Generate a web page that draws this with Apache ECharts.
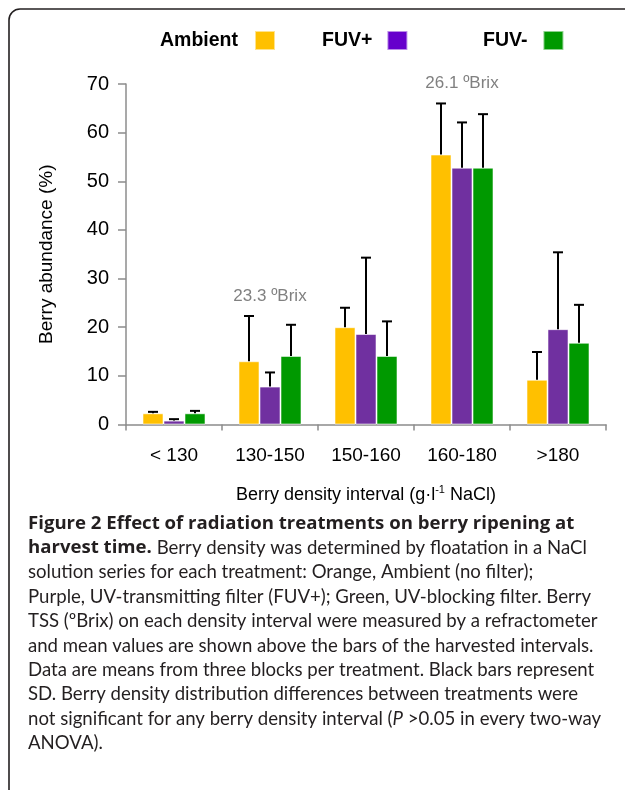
<!DOCTYPE html>
<html><head><meta charset="utf-8">
<script src="https://cdn.jsdelivr.net/npm/echarts@6/dist/echarts.min.js"></script>
<style>html,body{margin:0;padding:0;background:#fff;overflow:hidden}#c{width:625px;height:790px}</style>
</head><body><div id="c"></div>
<script>
// ---- data ----
const categories = ['< 130', '130-150', '150-160', '160-180', '>180'];
const seriesNames = ['Ambient', 'FUV+', 'FUV-'];
const ambientMean = [2.3, 13.0, 20.0, 55.5, 9.2];
const ambientSD   = [0.3, 9.3, 4.0, 10.5, 5.7];
const fuvPlusMean = [0.8, 7.8, 18.6, 52.8, 19.6];
const fuvPlusSD   = [0.3, 2.9, 15.7, 9.3, 15.8];
const fuvMinusMean = [2.3, 14.1, 14.1, 52.8, 16.8];
const fuvMinusSD   = [0.5, 6.4, 7.1, 11.0, 7.8];
const brixLabels = ['', '23.3 \u00baBrix', '', '26.1 \u00baBrix', ''];
const yTicks = [0, 10, 20, 30, 40, 50, 60, 70];
const captionLines = [
  [['b', 'Figure 2 Effect of radiation treatments on berry ripening at']],
  [['b', 'harvest time.'], ['n', ' Berry density was determined by floatation in a NaCl']],
  [['n', 'solution series for each treatment: Orange, Ambient (no filter);']],
  [['n', 'Purple, UV-transmitting filter (FUV+); Green, UV-blocking filter. Berry']],
  [['n', 'TSS (\u00baBrix) on each density interval were measured by a refractometer']],
  [['n', 'and mean values are shown above the bars of the harvested intervals.']],
  [['n', 'Data are means from three blocks per treatment. Black bars represent']],
  [['n', 'SD. Berry density distribution differences between treatments were']],
  [['n', 'not significant for any berry density interval ('], ['i', 'P'], ['n', ' >0.05 in every two-way']],
  [['n', 'ANOVA).']]
];

// ---- styling ----
const barColors = ['#FFC000', '#7030A0', '#009900'];
const legendColors = ['#FFC000', '#6600CC', '#009900'];
const means = [ambientMean, fuvPlusMean, fuvMinusMean];
const sds = [ambientSD, fuvPlusSD, fuvMinusSD];
const BAR_W = 21;
const FONT = '"Liberation Sans", Arial, sans-serif';
const CAP_FONT = 'Lato, "Open Sans", sans-serif';
const CAP_BOLD_FONT = '"Open Sans", Lato, sans-serif';
const CAP_SIZE = 18.6;

const chart = echarts.init(document.getElementById('c'), null, {renderer: 'canvas'});

const barSeries = seriesNames.map((name, s) => ({
  name, type: 'bar', data: means[s], barWidth: BAR_W, barGap: '0%',
  itemStyle: {color: barColors[s], borderColor: 'rgba(255,255,255,0.55)', borderWidth: 1},
  z: 2
}));

const errData = [];
seriesNames.forEach((n, s) => means[s].forEach((m, i) => errData.push([i, m, m + sds[s][i], s])));

const errSeries = {
  type: 'custom', name: 'err', silent: true, z: 5,
  data: errData,
  renderItem(params, api) {
    const i = api.value(0), s = api.value(3);
    const off = (s - 1) * BAR_W;
    const p0 = api.coord([i, api.value(1)]);
    const p1 = api.coord([i, api.value(2)]);
    const x = p0[0] + off;
    const st = {stroke: '#000', lineWidth: 2};
    return {type: 'group', children: [
      {type: 'line', shape: {x1: x, y1: p0[1], x2: x, y2: p1[1]}, style: st},
      {type: 'line', shape: {x1: x - 5, y1: p1[1], x2: x + 5, y2: p1[1]}, style: st}
    ]};
  }
};

const brixData = [];
brixLabels.forEach((t, i) => {
  if (!t) return;
  let top = 0;
  for (let s = 0; s < 3; s++) top = Math.max(top, means[s][i] + sds[s][i]);
  brixData.push([i, top, t]);
});
const brixSeries = {
  type: 'custom', name: 'brix', silent: true, z: 6, data: brixData,
  renderItem(params, api) {
    const p = api.coord([api.value(0), api.value(1)]);
    return {type: 'text', style: {text: brixData[params.dataIndex][2], x: p[0], y: p[1] - 20,
      align: 'center', verticalAlign: 'middle', fill: '#808080', font: '17px ' + FONT}};
  }
};

const legendPos = [{left: 155, pad: 12}, {left: 317, pad: 10}, {left: 478, pad: 11}];
const legends = seriesNames.map((n, s) => ({
  data: [{name: n, itemStyle: {color: legendColors[s]}}],
  left: legendPos[s].left, top: 25, align: 'right', itemWidth: 20, itemHeight: 19,
  icon: 'rect', selectedMode: false,
  textStyle: {fontFamily: FONT, fontWeight: 'bold', fontSize: 19.5, color: '#000', padding: [0, legendPos[s].pad, 0, 0]}
}));

const capStyles = {
  b: {fontFamily: CAP_BOLD_FONT, fontWeight: 'bold', fontSize: 18.6, fill: '#231f20'},
  n: {fontFamily: CAP_FONT, fontSize: CAP_SIZE, fill: '#231f20'},
  i: {fontFamily: CAP_FONT, fontStyle: 'italic', fontSize: CAP_SIZE, fill: '#231f20'}
};
const captionGraphics = captionLines.map((parts, k) => ({
  type: 'text', left: 28, top: 514 + k * 24.4,
  style: {
    text: parts.map(p => '{' + p[0] + '|' + p[1].replace(/[{}|]/g, '') + '}').join(''),
    rich: capStyles, font: CAP_SIZE + 'px ' + CAP_FONT, fill: '#231f20'
  }
}));

const frameStyle = {stroke: '#231f20', lineWidth: 1.6, fill: null};
chart.setOption({
  animation: false,
  backgroundColor: '#fff',
  legend: legends,
  grid: {left: 126, right: 19, top: 84, bottom: 365.5},
  xAxis: {
    type: 'category', data: categories,
    axisLine: {lineStyle: {color: '#8c8c8c', width: 1.5}},
    axisTick: {show: true, length: 6, lineStyle: {color: '#8c8c8c', width: 1.5}},
    axisLabel: {color: '#000', fontSize: 19, fontFamily: FONT, margin: 22},
    name: 'Berry density interval (g\u00b7l{sup|-1} NaCl)',
    nameLocation: 'middle', nameGap: 60,
    nameTextStyle: {color: '#000', fontSize: 18, fontFamily: FONT,
      rich: {sup: {fontSize: 11, fontFamily: FONT, color: '#000', verticalAlign: 'top', padding: [0, 0, 10, 0]}}}
  },
  yAxis: {
    type: 'value', min: 0, max: 70, interval: 10,
    axisLine: {show: true, lineStyle: {color: '#8c8c8c', width: 1.5}},
    axisTick: {show: true, length: 8, lineStyle: {color: '#8c8c8c', width: 1.5}},
    splitLine: {show: false},
    axisLabel: {color: '#000', fontSize: 20, fontFamily: FONT, margin: 17,
      formatter: v => yTicks.includes(v) ? String(v) : ''},
    name: 'Berry abundance (%)', nameLocation: 'middle', nameGap: 70,
    nameTextStyle: {color: '#000', fontSize: 19, fontFamily: FONT}
  },
  graphic: [
    {type: 'line', shape: {x1: 9, y1: 20, x2: 9, y2: 800}, style: frameStyle, silent: true, z: -1},
    {type: 'line', shape: {x1: 20, y1: 9, x2: 700, y2: 9}, style: frameStyle, silent: true, z: -1},
    {type: 'arc', shape: {cx: 20, cy: 20, r: 11, startAngle: Math.PI, endAngle: Math.PI * 1.5, clockwise: true},
      style: frameStyle, silent: true, z: -1}
  ].concat(captionGraphics),
  series: barSeries.concat([errSeries, brixSeries])
});
</script></body></html>
